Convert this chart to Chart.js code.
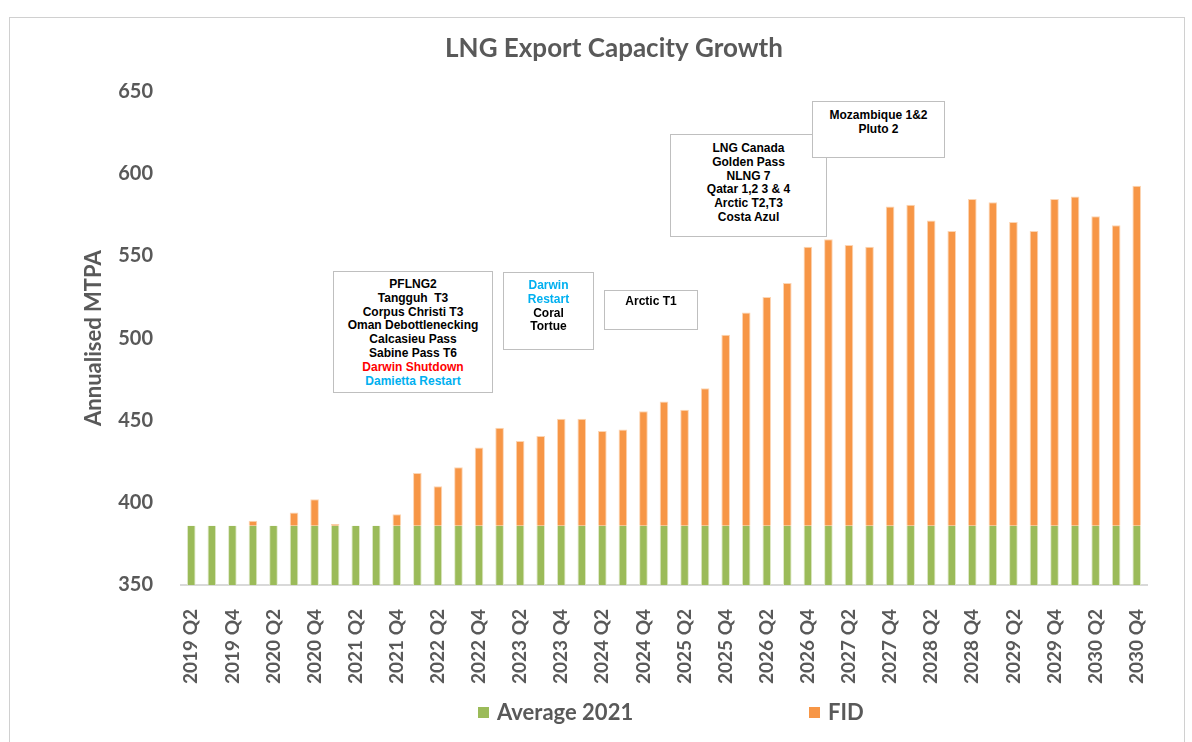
<!DOCTYPE html>
<html>
<head>
<meta charset="utf-8">
<script src="https://cdn.jsdelivr.net/npm/chart.js@4.4.1/dist/chart.umd.min.js"></script>
<style>
    body { margin: 0; background: #fff; font-family: Lato, "Open Sans", sans-serif; }
    .frame { position: absolute; left: 9px; top: 17px; width: 1174px; height: 740px; border: 1px solid #d0d0d0; }
    .chart-box { position: absolute; left: 10px; top: 18px; width: 1172px; height: 722px; }
    .note {
        position: absolute; background: #fff; border: 1.5px solid #bfbfbf; box-sizing: border-box;
        font: bold 12px "Liberation Sans", Arial, sans-serif; color: #000; text-align: center; line-height: 13.8px;
    }
    .red { color: #ff0000; }
    .blue { color: #00b0f0; }
    .legend { position: absolute; top: 698px; font: bold 22px Lato, sans-serif; color: #595959; }
    .legend span.sw { display: inline-block; width: 11px; height: 11px; margin-right: 8px; vertical-align: 2px; }
</style>
</head>
<body>
<div class="frame"></div>
<div class="chart-box"><canvas id="lngChart"></canvas></div>

<div class="note" style="left:333px;top:271px;width:160px;height:122px;padding-top:6px;">
    PFLNG2<br>Tangguh&nbsp; T3<br>Corpus Christi T3<br>Oman Debottlenecking<br>Calcasieu Pass<br>Sabine Pass T6<br>
    <span class="red">Darwin Shutdown</span><br><span class="blue">Damietta Restart</span>
</div>
<div class="note" style="left:503px;top:272px;width:91px;height:78px;padding-top:6px;">
    <span class="blue">Darwin<br>Restart</span><br>Coral<br>Tortue
</div>
<div class="note" style="left:604px;top:290px;width:94px;height:40px;padding-top:4px;">Arctic T1</div>
<div class="note" style="left:670px;top:134px;width:157px;height:103px;padding-top:7px;">
    LNG Canada<br>Golden Pass<br>NLNG 7<br>Qatar 1,2 3 &amp; 4<br>Arctic T2,T3<br>Costa Azul
</div>
<div class="note" style="left:812px;top:101px;width:133px;height:57px;padding-top:7px;">
    Mozambique 1&amp;2<br>Pluto 2
</div>

<div class="legend" style="left:478px;"><span class="sw" style="background:#9bbb59"></span>Average 2021</div>
<div class="legend" style="left:809px;"><span class="sw" style="background:#f79646"></span>FID</div>

<script>
// Trimestres 2019 Q2 .. 2030 Q4
const quarters = [
    '2019 Q2', '2019 Q3', '2019 Q4',
    '2020 Q1', '2020 Q2', '2020 Q3', '2020 Q4',
    '2021 Q1', '2021 Q2', '2021 Q3', '2021 Q4',
    '2022 Q1', '2022 Q2', '2022 Q3', '2022 Q4',
    '2023 Q1', '2023 Q2', '2023 Q3', '2023 Q4',
    '2024 Q1', '2024 Q2', '2024 Q3', '2024 Q4',
    '2025 Q1', '2025 Q2', '2025 Q3', '2025 Q4',
    '2026 Q1', '2026 Q2', '2026 Q3', '2026 Q4',
    '2027 Q1', '2027 Q2', '2027 Q3', '2027 Q4',
    '2028 Q1', '2028 Q2', '2028 Q3', '2028 Q4',
    '2029 Q1', '2029 Q2', '2029 Q3', '2029 Q4',
    '2030 Q1', '2030 Q2', '2030 Q3', '2030 Q4'
];

// Base (média 2021), MTPA
const average2021 = [
    386, 386, 386, 386, 386, 386, 386, 386, 386, 386, 386, 386,
    386, 386, 386, 386, 386, 386, 386, 386, 386, 386, 386, 386,
    386, 386, 386, 386, 386, 386, 386, 386, 386, 386, 386, 386,
    386, 386, 386, 386, 386, 386, 386, 386, 386, 386, 386
];

// Capacidade adicional FID, empilhada sobre a base
const fid = [
    0, 0, 0, 3, 0, 8, 16, 1, 0, 0, 7, 32,
    24, 35.5, 47.5, 59.5, 51.5, 54.5, 65, 65, 57.5, 58.5, 69.5, 75.5,
    70.5, 83.5, 116, 129.5, 139, 147.5, 169.5, 174, 170.5, 169.5, 194, 195,
    185.5, 179, 198.5, 196.5, 184.5, 179, 198.5, 200, 188, 182.5, 206.5
];

const yTicks = [350, 400, 450, 500, 550, 600, 650];

const grey = '#595959';

const ctx = document.getElementById('lngChart').getContext('2d');

const lngChart = new Chart(ctx, {
    type: 'bar',
    data: {
        labels: quarters,
        datasets: [
            {
                label: 'Average 2021',
                data: average2021,
                backgroundColor: '#9bbb59',
                borderColor: '#dfe9c9',
                borderWidth: { left: 1, right: 1, top: 0, bottom: 0 },
                borderSkipped: false,
                barPercentage: 0.42,
                categoryPercentage: 1
            },
            {
                label: 'FID',
                data: fid,
                backgroundColor: '#f79646',
                borderColor: '#fcd5b4',
                borderWidth: { left: 1, right: 1, top: 1, bottom: 0 },
                borderSkipped: false,
                barPercentage: 0.42,
                categoryPercentage: 1
            }
        ]
    },
    options: {
        responsive: true,
        maintainAspectRatio: false,
        animation: false,
        layout: {
            padding: { left: 71, right: 35, top: 0, bottom: 40 }
        },
        plugins: {
            legend: { display: false },
            tooltip: { enabled: false },
            title: {
                display: true,
                text: 'LNG Export Capacity Growth',
                color: grey,
                font: { family: 'Lato', size: 26, weight: 'bold' },
                padding: { top: 15, bottom: 27 }
            }
        },
        scales: {
            x: {
                stacked: true,
                grid: { display: false },
                border: { display: true, color: '#d9d9d9', width: 2 },
                ticks: {
                    autoSkip: false,
                    maxRotation: 90,
                    minRotation: 90,
                    padding: 16,
                    color: grey,
                    font: { family: 'Lato', size: 19, weight: 'bold' },
                    callback: (value, index) => index % 2 === 0 ? quarters[index] : ''
                }
            },
            y: {
                stacked: true,
                min: 350,
                max: 650,
                grid: { display: false },
                border: { display: false },
                afterFit: (scale) => { scale.width = 100; },
                afterBuildTicks: (scale) => {
                    scale.ticks = yTicks.map(v => ({ value: v }));
                },
                ticks: {
                    padding: 20,
                    color: grey,
                    font: { family: 'Lato', size: 20, weight: 'bold' }
                },
                title: {
                    display: true,
                    text: 'Annualised MTPA',
                    color: grey,
                    font: { family: 'Lato', size: 22, weight: 'bold' },
                    padding: { top: 0, bottom: 0 }
                }
            }
        }
    }
});
</script>
</body>
</html>
